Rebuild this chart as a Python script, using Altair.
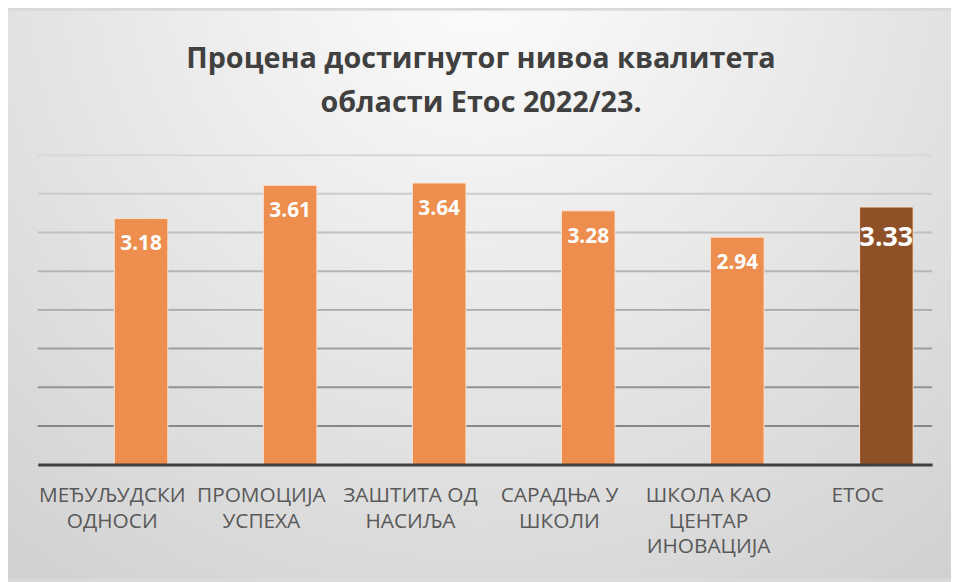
import altair as alt
import pandas as pd

categories = ["МЕЂУЉУДСКИ|ОДНОСИ", "ПРОМОЦИЈА|УСПЕХА", "ЗАШТИТА ОД|НАСИЉА",
              "САРАДЊА У|ШКОЛИ", "ШКОЛА КАО|ЦЕНТАР|ИНОВАЦИЈА", "ЕТОС"]
values = [3.18, 3.61, 3.64, 3.28, 2.94, 3.33]
bar_colors = ["#ED8D4E", "#ED8D4E", "#ED8D4E", "#ED8D4E", "#ED8D4E", "#8E5027"]
grid_values = [0.5, 1.0, 1.5, 2.0, 2.5, 3.0, 3.5, 4.0]
title_lines = ["Процена достигнутог нивоа квалитета", "области Етос 2022/23."]

df = pd.DataFrame({"category": categories, "value": values})
grid_df = pd.DataFrame({"g": grid_values})

W, H = 902, 312
PAD = {"left": 30, "top": 146, "right": 19, "bottom": 116}

x_enc = alt.X("category:N", sort=categories, title=None,
              scale=alt.Scale(paddingInner=0, paddingOuter=0),
              axis=alt.Axis(labelExpr="split(datum.label, '|')", labelAngle=0,
                            labelAlign="center",
                            labelFont="Open Sans", labelFontSize=21,
                            labelColor="#595959", labelLineHeight=26,
                            labelPadding=20, labelBaseline="top",
                            ticks=False, domainColor="#404040", domainWidth=3,
                            grid=False, zindex=2))
y_enc = alt.Y("value:Q", scale=alt.Scale(domain=[0, 4]), axis=None)

bg = alt.Chart(alt.Data(values=[{}])).mark_rect(
    fill={"gradient": "radial", "x1": 0.5, "y1": 0.15, "x2": 0.5, "y2": 0.15,
          "r1": 0, "r2": 0.85,
          "stops": [{"offset": 0, "color": "#fdfdfd"},
                    {"offset": 1, "color": "#cfcfcf"}]}
).encode(x=alt.value(-PAD["left"]), x2=alt.value(W + PAD["right"]),
         y=alt.value(-PAD["top"]), y2=alt.value(H + PAD["bottom"]))

title = alt.Chart(alt.Data(values=[{}])).mark_text(
    font="Open Sans", fontSize=29, fontWeight="bold", color="#404040",
    lineHeight=44, baseline="top", align="center"
).encode(x=alt.value(W / 2 - 4), y=alt.value(-111), text=alt.value(title_lines))

grid = alt.Chart(grid_df).mark_rule(strokeWidth=2).encode(
    y=alt.Y("g:Q", scale=alt.Scale(domain=[0, 4]), axis=None),
    color=alt.Color("g:Q", scale=alt.Scale(domain=[0.5, 4], range=["#888888", "#d8d8d8"]),
                    legend=None)
)

bars = alt.Chart(df).mark_bar(width=54, xOffset=29, stroke="#fbe2d0", strokeWidth=1).encode(
    x=x_enc, y=y_enc,
    color=alt.Color("category:N", scale=alt.Scale(domain=categories, range=bar_colors), legend=None)
)

labels_small = alt.Chart(df).transform_filter(
    alt.datum.category != "ЕТОС"
).mark_text(xOffset=29, dy=26, baseline="middle", font="Open Sans", fontWeight="bold",
            fontSize=21, color="white").encode(
    x=x_enc, y=y_enc, text=alt.Text("value:Q", format=".2f"))

labels_big = alt.Chart(df).transform_filter(
    alt.datum.category == "ЕТОС"
).mark_text(xOffset=29, dy=31, baseline="middle", font="Open Sans", fontWeight="bold",
            fontSize=27, color="white").encode(
    x=x_enc, y=y_enc, text=alt.Text("value:Q", format=".2f"))

chart = alt.layer(bg, title, grid, bars, labels_small, labels_big).resolve_scale(
    color="independent"
).properties(
    width=W, height=H,
    autosize=alt.AutoSizeParams(type="none"),
    padding=PAD,
    background="#d9d9d9"
).configure_view(stroke=None)

chart.save("out.html", embed_options={"renderer": "svg", "actions": False})
